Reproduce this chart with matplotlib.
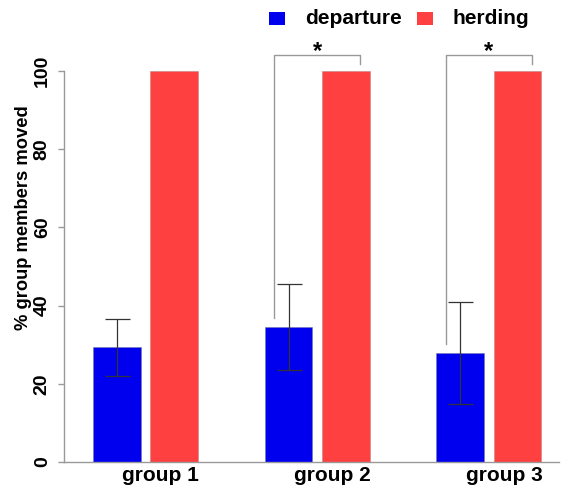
import matplotlib
matplotlib.use("Agg")
import matplotlib.pyplot as plt
import numpy as np
from matplotlib.patches import Rectangle

plt.rcParams['font.family'] = ['Liberation Sans', 'DejaVu Sans']
plt.rcParams['font.weight'] = 'bold'

groups = ["group 1", "group 2", "group 3"]
departure = [29.3, 34.6, 27.9]
departure_se = [7.25, 11.0, 13.0]
herding = [100, 100, 100]
series_names = ["departure", "herding"]
yticks = [0, 20, 40, 60, 80, 100]
sig_groups = [1, 2]

blue = "#0000EE"
red = "#FF4040"

W, H = 561, 490
fig = plt.figure(figsize=(W / 100, H / 100), dpi=100)
ax = fig.add_axes([64 / W, 28 / H, (559 - 64) / W, (462 - 71) / H])

width = 1.0
inner = 0.2
step = 3.6
blue_x = np.array([1.9 + i * step for i in range(len(groups))])
red_x = blue_x + width + inner

ax.bar(blue_x, departure, width=width, color=blue, edgecolor="#7777aa", linewidth=0.4, zorder=2)
ax.bar(red_x, herding, width=width, color=red, edgecolor="#bb8888", linewidth=0.4, zorder=2)
ax.errorbar(blue_x, departure, yerr=departure_se, fmt="none", ecolor="#333333",
            elinewidth=0.9, capsize=9, capthick=0.9, zorder=3)

ax.set_xlim(0.792, 11.17)
ax.set_ylim(0, 100)

# significance brackets
for g in sig_groups:
    xl = blue_x[g] - 0.3
    xr = red_x[g] + 0.3
    ytop = 104.1
    ax.plot([xl, xl, xr, xr], [departure[g] + 2.2, ytop, ytop, herding[g] + 1.9],
            color="#999999", lw=1.0, clip_on=False, zorder=1)
    ax.text((xl + xr) / 2, 105.0, "*", ha="center", va="center", fontsize=17,
            fontweight="bold", clip_on=False)

for s in ["top", "right"]:
    ax.spines[s].set_visible(False)
for s in ["left", "bottom"]:
    ax.spines[s].set_color("#999999")
    ax.spines[s].set_linewidth(1.0)

ax.set_yticks(yticks)
ax.set_yticklabels([str(v) for v in yticks], rotation=90, va="center", fontsize=14, fontweight="bold")
ax.tick_params(axis="y", length=4.5, width=1.0, color="#999999", pad=5)
ax.set_xticks((blue_x + red_x) / 2 + 0.32)
ax.set_xticklabels(groups, fontsize=15, fontweight="bold")
ax.tick_params(axis="x", length=0, pad=3)

fig.text(24 / W, 1 - 218 / H, "% group members moved", rotation=90, ha="center", va="center",
         fontsize=13.2, fontweight="bold")

# legend
for (x0, color, name, tx) in [(269, blue, series_names[0], 305), (417, red, series_names[1], 453)]:
    fig.patches.append(Rectangle((x0 / W, 1 - 25 / H), 16 / W, 13 / H, transform=fig.transFigure,
                                 facecolor=color, edgecolor="none"))
    fig.text(tx / W, 1 - 19 / H, name, ha="left", va="center", fontsize=15, fontweight="bold")

fig.savefig("out.png", dpi=100)
